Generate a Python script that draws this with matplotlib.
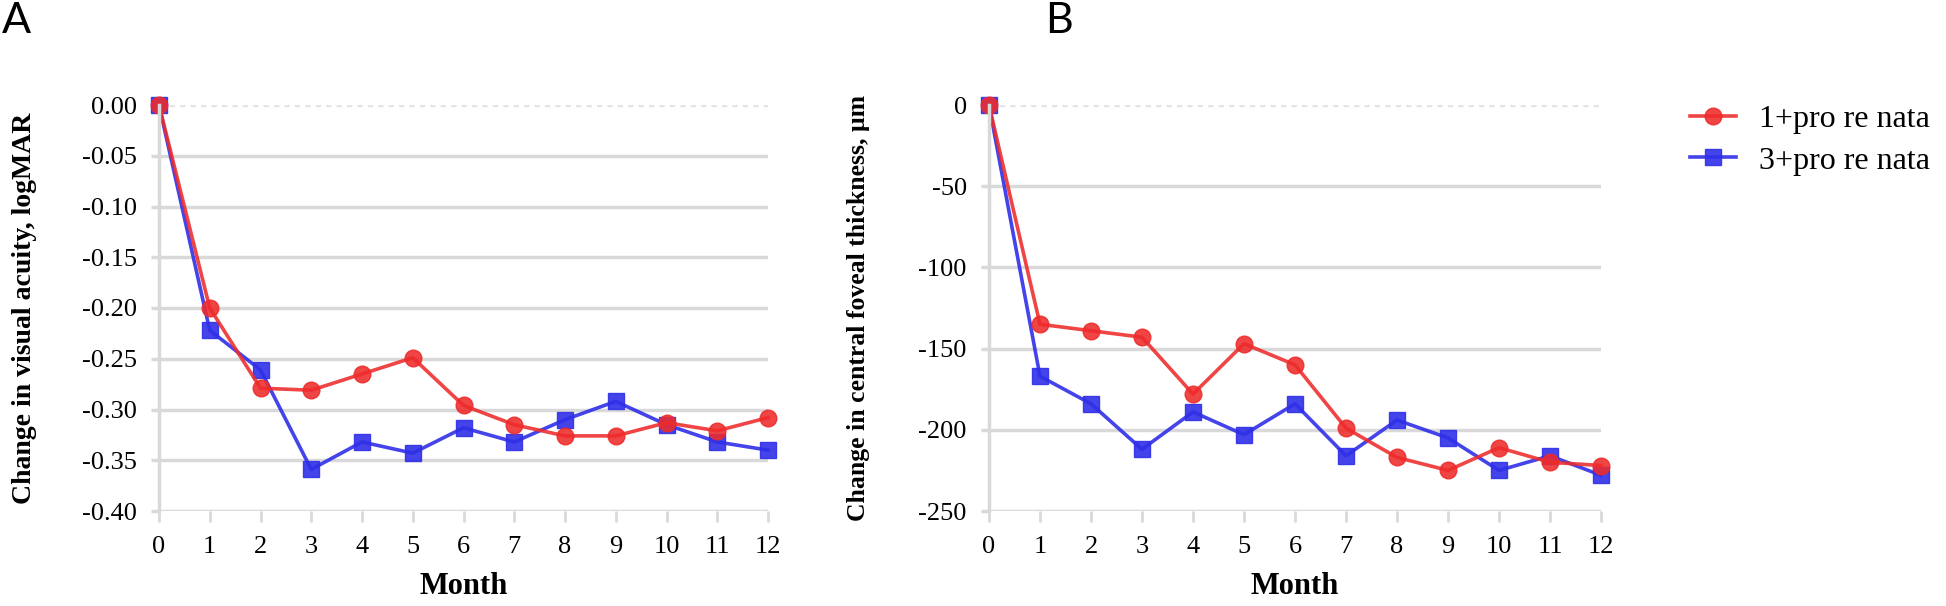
import numpy as np
import matplotlib
matplotlib.use('Agg')
import matplotlib.pyplot as plt

months = list(range(13))
month_labels = [str(m) for m in months]

# panel A: change in visual acuity (logMAR)
va_1prn = [0.0, -0.200, -0.279, -0.281, -0.265, -0.249, -0.296, -0.315, -0.326, -0.326, -0.313, -0.321, -0.308]
va_3prn = [0.0, -0.222, -0.261, -0.359, -0.332, -0.343, -0.318, -0.332, -0.310, -0.292, -0.315, -0.332, -0.340]
va_ticks = [-0.40, -0.35, -0.30, -0.25, -0.20, -0.15, -0.10, -0.05, 0.00]

# panel B: change in central foveal thickness (um)
cft_1prn = [0, -135, -139, -143, -178, -147, -160, -199, -217, -225, -211, -220, -222]
cft_3prn = [0, -167, -184, -212, -189, -203, -184, -216, -194, -205, -225, -216, -228]
cft_ticks = [-250, -200, -150, -100, -50, 0]

series_names = ['1+pro re nata', '3+pro re nata']
red = '#ee2b2b'
blue = '#2f2fe8'
grid_c = '#d9d9d9'
serif = ['Liberation Serif', 'DejaVu Serif']

W, H = 1946, 606
fig = plt.figure(figsize=(W / 100, H / 100), dpi=100)

def make_axes(left, right, top, bottom):
    return fig.add_axes([left / W, 1 - bottom / H, (right - left) / W, (bottom - top) / H])

axA = make_axes(159, 768, 105, 511)
axB = make_axes(989, 1601, 105, 511)

def style(ax, yticks, ylabels, ylabel, ylabel_size):
    ax.set_xlim(0, 12)
    ax.set_ylim(yticks[0], yticks[-1])
    ax.set_xticks(months)
    ax.set_xticklabels(month_labels, fontfamily=serif, fontsize=19)
    ax.set_yticks(yticks)
    ax.set_yticklabels(ylabels, fontfamily=serif, fontsize=19)
    for s in ['top', 'right', 'bottom']:
        ax.spines[s].set_visible(False)
    ax.spines['left'].set_color(grid_c)
    ax.spines['left'].set_linewidth(2.5)
    ax.tick_params(axis='x', direction='out', length=8, width=2, color=grid_c, pad=10)
    ax.tick_params(axis='y', direction='out', length=6, width=2.5, color=grid_c, pad=10)
    ax.yaxis.grid(True, color=grid_c, linewidth=2.5)
    ax.get_ygridlines()[-1].set_linestyle((0, (1.5, 1.5)))
    ax.get_ygridlines()[-1].set_color('#e4e4e4')
    ax.set_axisbelow(True)
    ax.set_xlabel('Month', fontfamily=serif, fontsize=22, fontweight='bold', labelpad=10)
    ax.set_ylabel(ylabel, fontfamily=serif, fontsize=ylabel_size, fontweight='bold')

def draw(ax, y1, y3):
    hb, = ax.plot(months, y3, color=blue, lw=2.6, marker='s', ms=11.5, alpha=0.9, clip_on=False)
    hr, = ax.plot(months, y1, color=red, lw=2.6, marker='o', ms=12, alpha=0.88, clip_on=False)
    return hr, hb

style(axA, va_ticks, ['%.2f' % t for t in va_ticks], 'Change in visual acuity, logMAR', 20)
style(axB, cft_ticks, [str(t) for t in cft_ticks], 'Change in central foveal thickness, μm', 18.5)
draw(axA, va_1prn, va_3prn)
hr, hb = draw(axB, cft_1prn, cft_3prn)

axA.yaxis.set_label_coords(-0.200, 0.5)
axB.yaxis.set_label_coords(-0.195, 0.5)

fig.text(2 / W, 1 - 2 / H, 'A', fontsize=31, fontfamily='Lato', fontweight='normal', va='top', ha='left')
fig.text(1045 / W, 1 - 2 / H, 'B', fontsize=31, fontfamily='Lato', fontweight='normal', va='top', ha='left')

fig.legend([hr, hb], series_names, loc='upper left', bbox_to_anchor=(1661 / W, 1 - 76 / H),
           frameon=False, prop={'family': serif, 'size': 23}, handlelength=1.45,
           labelspacing=0.38, handletextpad=0.72)

fig.savefig('out.png', dpi=100)
